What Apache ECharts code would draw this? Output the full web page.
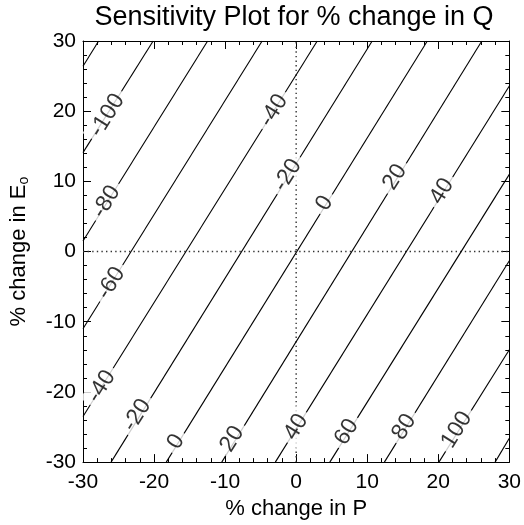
<!DOCTYPE html>
<html>
<head>
<meta charset="utf-8">
<script src="https://cdn.jsdelivr.net/npm/echarts@6/dist/echarts.min.js"></script>
<style>html,body{margin:0;padding:0;background:#fff;}#c{width:524px;height:525px;}</style>
</head>
<body>
<div id="c"></div>
<script>
// Contour levels (% change in Q) and the two frame points where each line meets the plot border [P, E]
var levels = [-120, -100, -80, -60, -40, -20, 0, 20, 40, 60, 80, 100, 120];
var startPts = [[-30, 26.4], [-30, 14.1], [-30, 1.5], [-30, -11.0], [-30, -23.5], [-26.05, -30], [-18.28, -30], [-10.47, -30], [-2.93, -30], [4.74, -30], [12.42, -30], [20.09, -30], [28.0, -30]];
var endPts = [[-27.8, 30], [-20.13, 30], [-12.46, 30], [-4.79, 30], [2.97, 30], [10.70, 30], [18.46, 30], [26.13, 30], [30, 23.6], [30, 11.0], [30, -1.3], [30, -14.0], [30, -26.6]];

// Contour label texts and positions [P, E]
var labelTexts = ['-100', '-80', '-60', '-40', '-20', '0', '20', '40', '60', '80', '100', '-40', '-20', '0', '20', '40'];
var labelPos = [[-26.6, 19.4], [-26.7, 7.1], [-26.05, -4.5], [-27.4, -19.2], [-22.4, -23.3], [-16.9, -27.1], [-9.0, -26.7], [0.0, -25.0], [7.1, -25.7], [15.2, -25.0], [22.6, -25.4], [-3.15, 20.1], [-1.2, 10.9], [4.0, 6.9], [13.9, 10.6], [20.5, 8.6]];

var xTicks = [-30, -20, -10, 0, 10, 20, 30];
var yTicks = [-30, -20, -10, 0, 10, 20, 30];
var zeroLinesX = [[0, -30], [0, 30]];
var zeroLinesY = [[-30, 0], [30, 0]];

var FONT = "'Liberation Sans', Arial, Helvetica, sans-serif";
var chart = echarts.init(document.getElementById('c'), null, {renderer: 'canvas'});

function axisCommon(showLabel) {
  return {
    type: 'value', min: xTicks[0], max: xTicks[xTicks.length - 1], interval: 10,
    axisLine: {show: true, onZero: false, lineStyle: {color: '#000', width: 1}},
    axisTick: {show: true, inside: true, length: 8, lineStyle: {color: '#000', width: 1}},
    minorTick: {show: true, splitNumber: 5, length: 4, lineStyle: {color: '#000', width: 1}},
    splitLine: {show: false},
    minorSplitLine: {show: false},
    axisLabel: {show: showLabel, color: '#000', fontSize: 21, fontFamily: FONT}
  };
}

var xb = axisCommon(true);
xb.position = 'bottom';
xb.axisLabel.margin = 10;
xb.name = '% change in P';
xb.nameLocation = 'middle';
xb.nameGap = 31;
xb.nameTextStyle = {color: '#000', fontSize: 22, fontFamily: FONT};
var xt = axisCommon(false);
xt.position = 'top';

var yl = axisCommon(true);
yl.min = yTicks[0]; yl.max = yTicks[yTicks.length - 1];
yl.position = 'left';
yl.axisLabel.margin = 7;
yl.name = '% change in E{sub|o}';
yl.nameLocation = 'middle';
yl.nameGap = 52;
yl.nameRotate = 90;
yl.nameTextStyle = {color: '#000', fontSize: 22, fontFamily: FONT,
  rich: {sub: {fontSize: 14, fontFamily: FONT, color: '#000', verticalAlign: 'bottom', padding: [10, 0, 0, 0]}}};
var yr = axisCommon(false);
yr.min = yTicks[0]; yr.max = yTicks[yTicks.length - 1];
yr.position = 'right';

var series = [];
series.push({type: 'line', data: zeroLinesX, symbol: 'none', silent: true, xAxisIndex: 0, yAxisIndex: 0,
  lineStyle: {color: '#333', width: 1.4, type: [1.4, 3.2]}, z: 2});
series.push({type: 'line', data: zeroLinesY, symbol: 'none', silent: true, xAxisIndex: 0, yAxisIndex: 0,
  lineStyle: {color: '#333', width: 1.4, type: [1.4, 3.2]}, z: 2});
for (var i = 0; i < levels.length; i++) {
  series.push({type: 'line', name: 'Q' + levels[i], data: [startPts[i], endPts[i]], symbol: 'none', silent: true,
    clip: true, xAxisIndex: 0, yAxisIndex: 0, lineStyle: {color: '#000', width: 1.1}, z: 3});
}
var labelData = labelPos.map(function (p, k) { return {value: p, name: labelTexts[k]}; });
series.push({type: 'scatter', data: labelData, symbolSize: 1, itemStyle: {color: 'rgba(0,0,0,0)'}, silent: true,
  xAxisIndex: 0, yAxisIndex: 0, z: 5,
  label: {show: true, position: 'inside', formatter: function (p) { return p.name; }, rotate: 58,
    color: '#000', fontSize: 23, fontFamily: FONT, backgroundColor: '#fff', padding: [0, 5, 0, 5]}});

chart.setOption({
  animation: false,
  backgroundColor: '#fff',
  grid: {left: 81, top: 41, width: 430, height: 430, containLabel: false},
  xAxis: [xb, xt],
  yAxis: [yl, yr],
  graphic: [{type: 'text', x: 294, y: 18, silent: true,
    style: {text: 'Sensitivity Plot for % change in Q', fill: '#000', fontSize: 27, fontFamily: FONT,
      textAlign: 'center', textVerticalAlign: 'middle'}}],
  series: series
});
</script>
</body>
</html>
